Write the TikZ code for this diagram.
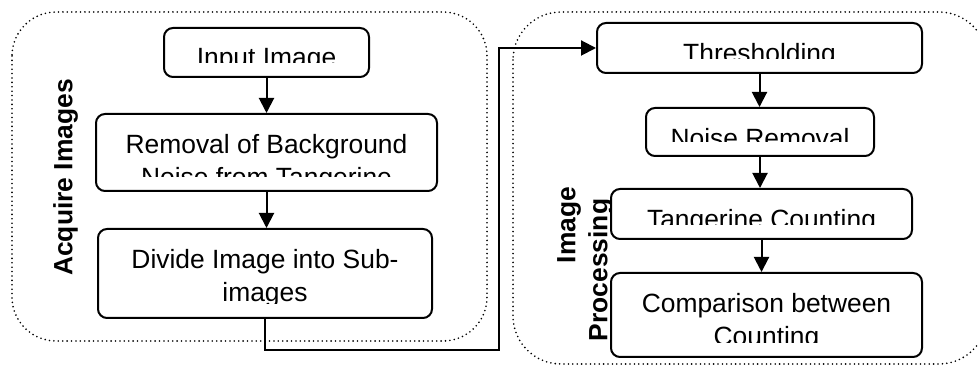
\documentclass[tikz,border=0pt]{standalone}
\usepackage{fontspec}
\setmainfont{Liberation Sans}
\usetikzlibrary{arrows.meta,positioning,calc}

\newcommand\stagefont{\fontsize{13.2pt}{16.5pt}\selectfont}

\begin{document}
\begin{tikzpicture}[
    x=0.5pt, y=-0.5pt,
    stage/.style={draw, line width=1pt, rounded corners=4.5pt, inner sep=0pt, fill=white,
        path picture={
            \clip ([yshift=7pt]path picture bounding box.south west) rectangle (path picture bounding box.north east);
            \node[anchor=north, inner sep=0pt, minimum width=0pt, minimum height=0pt, align=center, font=\stagefont]
                at ([yshift=-9.5pt]path picture bounding box.north) {#1};
        }},
    grp/.style={line width=0.9pt, dash pattern=on 0pt off 2.2pt, line cap=round},
    grplabel/.style={rotate=90, align=center, inner sep=0pt, font=\bfseries\fontsize{13.2pt}{16pt}\selectfont},
    arrow/.style={-{Triangle[length=7.5pt,width=7.5pt]}, line width=1pt}
]
    \useasboundingbox (0,0) rectangle (978,367);

    % dotted frames round the two stages
    \draw[grp, rounded corners=22pt] (12,12) rectangle (487,341);
    \draw[grp, rounded corners=24pt] (513,12) rectangle (987,364);

    \node[grplabel] (acq) at (65.5,177.5) {Acquire Images};
    \node[grplabel, align=right] (proc) at (585,264) {Image\\Processing\hspace*{6pt}};

    % left column
    \node[stage={Input Image}, minimum width=102.5pt, minimum height=24.5pt] (inp) at (266.5,52.5) {};
    \node[stage={Removal of Background\\Noise from Tangerine}, minimum width=170.5pt, minimum height=38.5pt] (rem) at (266.5,152.5) {};
    \node[stage={Divide Image into Sub-\\images}, minimum width=167pt, minimum height=44.5pt] (div) at (265,273.5) {};

    % right column
    \node[stage={Thresholding}, minimum width=162.5pt, minimum height=25pt] (thr) at (759.5,48) {};
    \node[stage={Noise Removal}, minimum width=114pt, minimum height=24pt] (noi) at (760,132) {};
    \node[stage={Tangerine Counting}, minimum width=150.5pt, minimum height=25pt] (tan) at (761.5,214) {};
    \node[stage={Comparison between\\Counting}, minimum width=155.5pt, minimum height=42pt] (cmp) at (766.5,315) {};

    \draw[arrow] (inp.south) -- (inp.south |- rem.north);
    \draw[arrow] (rem.south) -- (rem.south |- div.north);
    \draw[arrow] (div.south) -- ++(0,31) -| ([xshift=-48.5pt]thr.west) -- (thr.west);
    \draw[arrow] (thr.south) -- (thr.south |- noi.north);
    \draw[arrow] (noi.south) -- (noi.south |- tan.north);
    \draw[arrow] (tan.south) -- (tan.south |- cmp.north);
\end{tikzpicture}
\end{document}
